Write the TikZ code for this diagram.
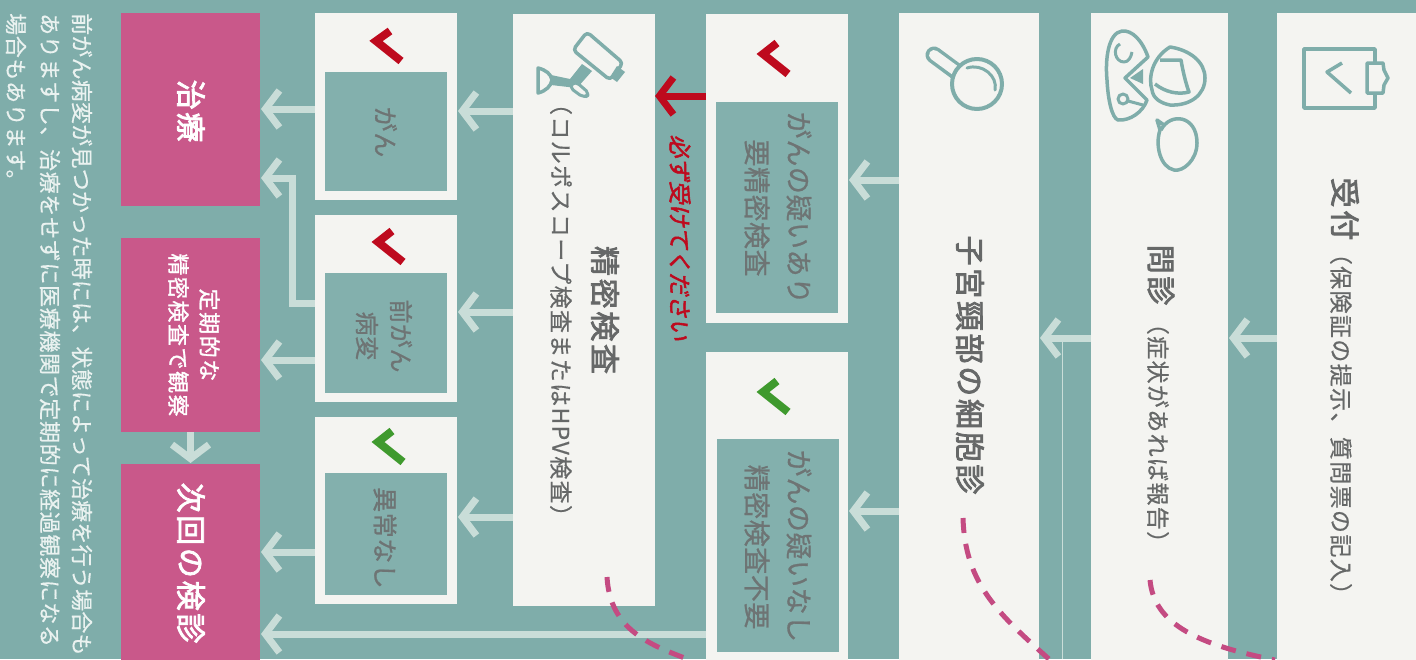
\documentclass[tikz,border=0pt]{standalone}
\usepackage{fontspec}
\setmainfont{Noto Sans CJK JP}
\newfontfamily\jptitle{Noto Sans CJK JP}[LetterSpace=9,FakeBold=2.6]
\newfontfamily\jpmed{Noto Sans CJK JP}[LetterSpace=2,FakeBold=0.9]
\newfontfamily\jpsub{Noto Sans CJK JP}[LetterSpace=6,FakeBold=0.6]
\newfontfamily\jpnote{Noto Sans CJK JP}[LetterSpace=3,FakeBold=0.5]
\newfontfamily\jpnotefirst{Noto Sans CJK JP}[LetterSpace=1,FakeBold=0.5]
\newfontfamily\jppk{Noto Sans CJK JP}[LetterSpace=7,FakeBold=1.3]
\newfontfamily\jpslant{Noto Sans CJK JP}[FakeSlant=0.18,FakeBold=2.2]
\usetikzlibrary{arrows.meta}
\definecolor{bgteal}{HTML}{7FADAA}
\definecolor{innerteal}{HTML}{83B0AD}
\definecolor{paper}{HTML}{F4F4F1}
\definecolor{pinkbox}{HTML}{C9588A}
\definecolor{lightarrow}{HTML}{C9DDD8}
\definecolor{redmark}{HTML}{BE0A1E}
\definecolor{greenmark}{HTML}{3F9A2E}
\definecolor{greytext}{HTML}{6E7474}
\definecolor{darktext}{HTML}{666868}
\definecolor{dashpink}{HTML}{C44B82}
\definecolor{icon}{HTML}{7FADAA}
\definecolor{notetext}{HTML}{EAF2F0}
\newcommand{\fs}[1]{\fontsize{#1}{33}\selectfont}
\tikzset{
  whitebox/.style={rectangle,fill=paper,inner sep=0,outer sep=0,anchor=north west},
  tealbox/.style={rectangle,fill=innerteal,inner sep=0,outer sep=0,anchor=north west},
  pinkrect/.style={rectangle,fill=pinkbox,inner sep=0,outer sep=0,anchor=north west},
  vtext/.style={rotate=-90,inner sep=0,anchor=center,align=center},
  notetxt/.style={rotate=-90,inner sep=0,anchor=west,text=notetext,font=\jpnote\fs{22}},
  flow/.style={draw=lightarrow,line width=7pt,shorten >=1pt,-{Straight Barb[length=14pt,width=37pt]}},
  redflow/.style={draw=redmark,line width=7pt,-{Straight Barb[length=14pt,width=37pt]}},
  chev/.style={line width=8pt,miter limit=10},
  dashcurve/.style={draw=dashpink,line width=5pt,dash pattern=on 15pt off 11pt},
  iconline/.style={draw=icon,line width=3.5pt,line join=round}
}
\begin{document}
\begin{tikzpicture}[x=1pt,y=-1pt]
\path[use as bounding box,fill=bgteal] (0,0) rectangle (1416,659);
% pink result boxes
\node[pinkrect,minimum width=139pt,minimum height=193pt] (chiryo) at (121,13) {};
\node[pinkrect,minimum width=139pt,minimum height=194pt] (teiki) at (121,238) {};
\node[pinkrect,minimum width=139pt,minimum height=196pt] (jikai) at (121,464) {};
% result boxes
\node[whitebox,minimum width=142pt,minimum height=187pt] (gan) at (315,13) {};
\node[tealbox,minimum width=122pt,minimum height=119pt] (ganin) at (325,72) {};
\node[whitebox,minimum width=142pt,minimum height=187pt] (zen) at (315,215) {};
\node[tealbox,minimum width=122pt,minimum height=120pt] (zenin) at (325,273) {};
\node[whitebox,minimum width=142pt,minimum height=187pt] (ijo) at (315,417) {};
\node[tealbox,minimum width=122pt,minimum height=122pt] (ijoin) at (325,473) {};
% step columns
\node[whitebox,minimum width=142pt,minimum height=592pt] (seimitsu) at (513,14) {};
\node[whitebox,minimum width=142pt,minimum height=309pt] (ari) at (706,14) {};
\node[tealbox,minimum width=122pt,minimum height=211pt] (ariin) at (716,102) {};
\node[whitebox,minimum width=142pt,minimum height=310pt] (nashi) at (706,352) {};
\node[tealbox,minimum width=122pt,minimum height=213pt] (nashiin) at (717,439) {};
\node[whitebox,minimum width=140pt,minimum height=650pt] (saibo) at (899,13) {};
\node[whitebox,minimum width=137pt,minimum height=650pt] (monshin) at (1091,13) {};
\node[whitebox,minimum width=141pt,minimum height=650pt] (uketsuke) at (1277,13) {};
% crease line
\coordinate (creasetop) at (1062,338);
\coordinate (creasebot) at (1062,659);
\draw[draw=lightarrow,line width=1pt] (creasetop) -- (creasebot);
% connectors
\draw[flow] (uketsuke.west |- 0,338) -- (monshin.east |- 0,338);
\draw[flow] (monshin.west |- 0,338) -- (saibo.east |- 0,338);
\draw[flow] (saibo.west |- 0,180) -- (ari.east |- 0,180);
\draw[flow] (saibo.west |- 0,511) -- (nashi.east |- 0,511);
\draw[flow] (seimitsu.west |- 0,111) -- (gan.east |- 0,111);
\draw[flow] (seimitsu.west |- 0,312) -- (zen.east |- 0,312);
\draw[flow] (seimitsu.west |- 0,517) -- (ijo.east |- 0,517);
\draw[flow] (gan.west |- 0,109) -- (chiryo.east |- 0,109);
\draw[flow] (zen.west |- 0,360) -- (teiki.east |- 0,360);
\draw[flow] (zen.west |- 0,303) -| (292,178) -- (chiryo.east |- 0,178);
\draw[flow] (ijo.west |- 0,552) -- (jikai.east |- 0,552);
\draw[flow] (nashi.west |- 0,634) -- (jikai.east |- 0,634);
\draw[flow] (teiki.south) -- (jikai.north);
\draw[redflow] (ari.west |- 0,96) -- (seimitsu.east |- 0,96);
% check marks
\draw[chev,redmark] (390,31) -- (376,41) -- (401,61);
\draw[chev,redmark] (392,231) -- (378,242) -- (403,262);
\draw[chev,greenmark] (392,431) -- (378,442) -- (403,462);
\draw[chev,redmark] (777,43) -- (763,54) -- (788,74);
\draw[chev,greenmark] (777,381) -- (763,392) -- (788,412);
% dashed curves
\coordinate (d1a) at (1150,580);
\coordinate (d1b) at (1275,660);
\draw[dashcurve] (d1a) .. controls (1154,625) and (1200,645) .. (d1b);
\coordinate (d2a) at (963,518);
\coordinate (d2b) at (1050,660);
\draw[dashcurve] (d2a) .. controls (965,585) and (1000,615) .. (d2b);
\coordinate (d3a) at (607,577);
\coordinate (d3b) at (690,660);
\draw[dashcurve] (d3a) .. controls (610,630) and (650,645) .. (d3b);
% clipboard icon
\draw[iconline] (1375,63) -- (1375,49) -- (1304,49) -- (1304,108) -- (1375,108) -- (1375,93);
\draw[iconline] (1375,63) -- (1383,63) -- (1384,70) -- (1388,78) -- (1384,85) -- (1383,93) -- (1367,93) -- (1367,63) -- cycle;
\draw[iconline] (1342,63) -- (1327,72) -- (1351,93);
% doctor and patient icon
\draw[iconline] (1148,57) .. controls (1142,40) and (1132,30) .. (1122,31) .. controls (1108,33) and (1105,60) .. (1107,80) .. controls (1108,100) and (1112,118) .. (1118,120) .. controls (1130,121) and (1143,112) .. (1147,100) -- (1125,78) -- cycle;
\fill[icon] (1130,78) -- (1143,69) -- (1143,84) -- cycle;
\draw[iconline,line width=3pt] (1120,44) .. controls (1112,48) and (1115,62) .. (1124,62) .. controls (1128,62) and (1131,58) .. (1132,52);
\draw[iconline,line width=3pt] (1123,99) circle[radius=5pt] (1128,101) -- (1143,105);
\draw[iconline] (1170,47) .. controls (1190,50) and (1205,62) .. (1205,78) .. controls (1205,95) and (1190,106) .. (1170,105) .. controls (1160,103) and (1153,98) .. (1152,90) .. controls (1148,78) and (1152,58) .. (1170,47) -- cycle;
\draw[iconline] (1160,60) -- (1181,60) .. controls (1183,72) and (1186,84) .. (1189,92) .. controls (1178,95) and (1165,92) .. (1155,84);
\draw[iconline] (1161,130) .. controls (1170,112) and (1197,115) .. (1197,143) .. controls (1197,160) and (1183,172) .. (1174,170) .. controls (1160,167) and (1155,145) .. (1160,130) -- (1157,120) -- (1164,125);
% magnifier icon
\draw[line width=17pt,line cap=round,draw=icon] (934,55) -- (957,72);
\draw[line width=10pt,line cap=round,draw=paper] (934,55) -- (960,74);
\draw[iconline,line width=4pt,fill=paper] (977,84) circle[radius=25pt];
\draw[iconline,line width=3pt,line cap=round] (967,68) .. controls (982,63) and (998,76) .. (995,90);
% colposcope icon
\draw[iconline,rounded corners=4pt,fill=paper] (587,32) -- (623,63) -- (610,80) -- (573,50) -- cycle;
\fill[icon] (617,66) -- (625,72) -- (617,82) -- (610,77) -- cycle;
\fill[icon] (551,75) -- (570,79) -- (582,64) -- (592,71) -- (577,88) -- (551,85) -- cycle;
\draw[iconline] (538,68) .. controls (546,70) and (551,74) .. (552,80) .. controls (551,86) and (546,91) .. (538,93) -- cycle;
\draw[iconline,line width=3pt,rounded corners=5pt,fill=paper] (575,81) -- (590,94) -- (584,98) -- (569,87) -- cycle;
% pink box labels
\node[vtext,text=white,font=\jptitle\fs{30}] (tchiryo) at (191,111) {治療};
\node[vtext,text=white,font=\jppk\fs{22}] (tteiki) at (194,335) {定期的な\\[-2pt]精密検査で観察};
\node[vtext,text=white,font=\jptitle\fs{30}] (tjikai) at (191,563) {次回の検診};
% result labels
\node[vtext,text=greytext,font=\jpmed\fs{25}] (tgan) at (386,132) {がん};
\node[vtext,text=greytext,font=\jpmed\fs{24}] (tzen) at (384,336) {前がん\\[1pt]病変};
\node[vtext,text=greytext,font=\jpmed\fs{25}] (tijo) at (385,538) {異常なし};
% step labels
\node[vtext,text=darktext,font=\jptitle\fs{30}] (tseimitsu) at (605,310) {精密検査};
\node[vtext,text=darktext,font=\jpsub\fs{23}] (tcolpo) at (561,310) {（コルポスコープ検査またはHPV検査）};
\node[vtext,text=redmark,font=\jpslant\fs{23}] (tkanarazu) at (680,238) {必ず受けてください};
\node[vtext,text=greytext,font=\jpmed\fs{27}] (tari) at (799,208) {がんの疑いあり};
\node[vtext,text=greytext,font=\jpmed\fs{27}] (tyou) at (757,208) {要精密検査};
\node[vtext,text=greytext,font=\jpmed\fs{27}] (tnashi) at (799,546) {がんの疑いなし};
\node[vtext,text=greytext,font=\jpmed\fs{27}] (tfuyou) at (757,547) {精密検査不要};
\node[vtext,text=darktext,font=\jptitle\fs{30}] (tsaibo) at (970,365) {子宮頸部の細胞診};
\node[vtext,text=darktext,font=\jptitle\fs{29}] (tmon) at (1161,275) {問診};
\node[vtext,text=darktext,font=\jpsub\fs{23}] (tmonsub) at (1158,433) {（症状があれば報告）};
\node[vtext,text=darktext,font=\jptitle\fs{30}] (tuke) at (1345,209) {受付};
\node[vtext,text=darktext,font=\jpsub\fs{23}] (tukesub) at (1341,424) {（保険証の提示、質問票の記入）};
% note at far left
\node[notetxt,font=\jpnotefirst\fs{22}] (n1) at (82,13) {前がん病変が見つかった時には、状態によって治療を行う場合も};
\node[notetxt] (n2) at (50,13) {ありますし、治療をせずに医療機関で定期的に経過観察になる};
\node[notetxt] (n3) at (16,13) {場合もあります。};
\end{tikzpicture}
\end{document}
